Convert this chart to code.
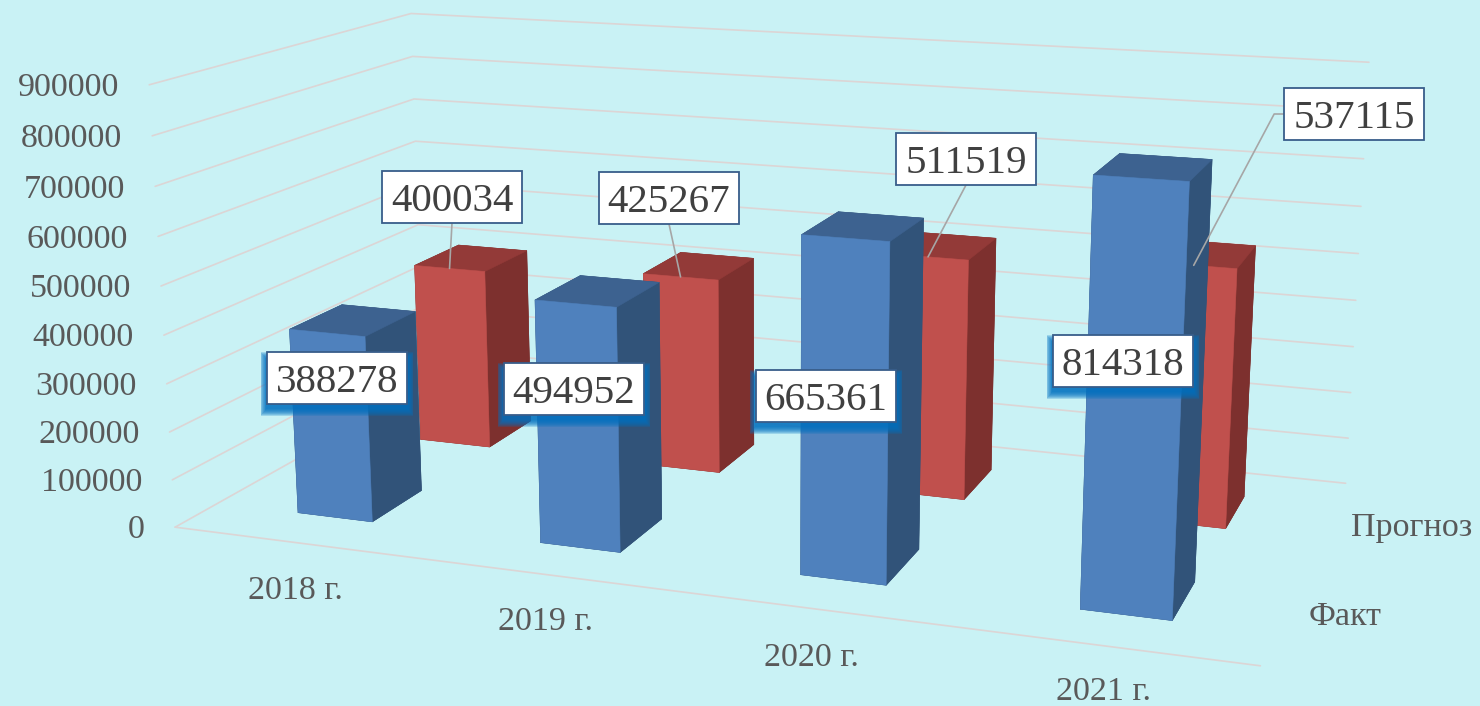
import numpy as np, matplotlib
matplotlib.use('Agg')
import matplotlib.pyplot as plt, seaborn as sns
from matplotlib.patches import Rectangle
from mpl_toolkits.mplot3d import proj3d

categories = ['2018 г.', '2019 г.', '2020 г.', '2021 г.']
series_names = ['Факт', 'Прогноз']
fact = [388278, 494952, 665361, 814318]
forecast = [400034, 425267, 511519, 537115]
z_ticks = [0, 100000, 200000, 300000, 400000, 500000, 600000, 700000, 800000, 900000]

W, H = 1480, 706
BG = '#C9F2F5'
GRID = '#DCD5D5'
TICK = '#595959'
LABEL = '#404040'
BORDER = '#385D8A'
GLOW = '#0070C0'
blue = sns.color_palette(['#4F81BD', '#3D6290', '#315379'])
red = sns.color_palette(['#C0504D', '#933A38', '#7D302E'])

sns.set_theme(style='white', rc={'figure.facecolor': BG, 'savefig.facecolor': BG})
plt.rcParams['font.family'] = ['Liberation Serif', 'DejaVu Serif']

# camera
K, CX, CY = 6724.45, 775.465, 293.358
S = K * 0.185
L = CX - K * 0.095
B = (H - CY) - K * 0.095
fig = plt.figure(figsize=(W / 100, H / 100), dpi=100)
ax = fig.add_axes([L / W, B / H, S / W, S / H], projection='3d')
ax.set_xlim(0, 4, view_margin=0)
ax.set_ylim(0, 2, view_margin=0)
ax.set_zlim(0, z_ticks[-1], view_margin=0)
ax.view_init(13.867, -70.261, 0)
ax.set_proj_type('persp', focal_length=0.38538)
ax.set_box_aspect((1, 0.49745, 0.41276))
ax.set_axis_off()
ax.patch.set_visible(False)
ax.computed_zorder = False
BAR_W, BAR_D = 0.31344, 0.39667

# walls and floor
for z in z_ticks:
    ax.plot([0, 0, 4], [0, 2, 2], [z, z, z], color=GRID, lw=1.2, zorder=1)
ax.plot([0, 4], [0, 0], [0, 0], color=GRID, lw=1.2, zorder=1)


def faces(pal):
    front, top, side = pal
    return [side, top, front, side, side, side]


order = 2
for row, (vals, pal) in enumerate([(forecast, red), (fact, blue)]):
    y = (1 if row == 0 else 0) + 0.5 - BAR_D / 2
    for i, v in enumerate(vals):
        c = faces(pal)
        ax.bar3d(i + 0.5 - BAR_W / 2, y, 0, BAR_W, BAR_D, v, color=c, edgecolor=c,
                 linewidth=0.4, shade=False, zorder=order)
        order += 1


def screen(x, y, z):
    u, v, _ = proj3d.proj_transform(x, y, z, ax.get_proj())
    return u, v


# z tick labels hang off the front-left wall edge
for z in z_ticks:
    ax.annotate(f'{z}', xy=screen(0, 0, z), xytext=(-30, -3), textcoords='offset pixels',
                ha='right', va='center', fontsize=24.5, color=TICK, annotation_clip=False)

# category and series labels
cat_pos = [(295, 591), (546, 622), (811, 658), (1104, 692)]
for name, (x, y) in zip(categories, cat_pos):
    fig.text(x / W, 1 - y / H, name, ha='center', va='center', fontsize=24.5, color=TICK)
ser_pos = [(1345, 617), (1412, 528)]
for name, (x, y) in zip(series_names, ser_pos):
    fig.text(x / W, 1 - y / H, name, ha='center', va='center', fontsize=24.5, color=TICK)


def label_box(value, cx, cy, glow):
    w, h = 140, 52
    if glow:
        for e in range(8, 0, -1):
            gx = 0.8 * e
            top = cy - h / 2 + 8 - e
            bottom = cy + h / 2 + 4 + e
            fig.add_artist(Rectangle(((cx - w / 2 - gx) / W, 1 - bottom / H),
                                     (w + 2 * gx) / W, (bottom - top) / H, transform=fig.transFigure,
                                     facecolor=GLOW, edgecolor='none', alpha=0.22, zorder=4))
    fig.add_artist(Rectangle(((cx - w / 2) / W, 1 - (cy + h / 2) / H), w / W, h / H,
                             transform=fig.transFigure, facecolor='white', edgecolor=BORDER,
                             linewidth=1.3, zorder=5))
    fig.text(cx / W, 1 - cy / H, str(value), ha='center', va='center_baseline', fontsize=29.5,
             color=LABEL, zorder=6)


fact_pos = [(337, 378), (574, 389), (826, 396), (1123, 361)]
for v, (x, y) in zip(fact, fact_pos):
    label_box(v, x, y, True)

fore_pos = [(452, 197), (669, 198), (966, 159), (1354, 114)]
for i, (v, (x, y)) in enumerate(zip(forecast, fore_pos)):
    label_box(v, x, y, False)
    target = screen(i + 0.5, 1.5 - BAR_D / 2, v)
    if i < 3:
        start, cs = (x, H - (y + 26)), 'arc3'
    else:
        start, cs = (x - 70, H - y), 'angle,angleA=0,angleB=62,rad=0'
    ax.annotate('', xy=target, xytext=start, textcoords='figure pixels', annotation_clip=False,
                zorder=60, arrowprops=dict(arrowstyle='-', color='#A6A6A6', lw=1.2, connectionstyle=cs,
                                           shrinkA=0, shrinkB=0))

fig.savefig('out.png', dpi=100)
